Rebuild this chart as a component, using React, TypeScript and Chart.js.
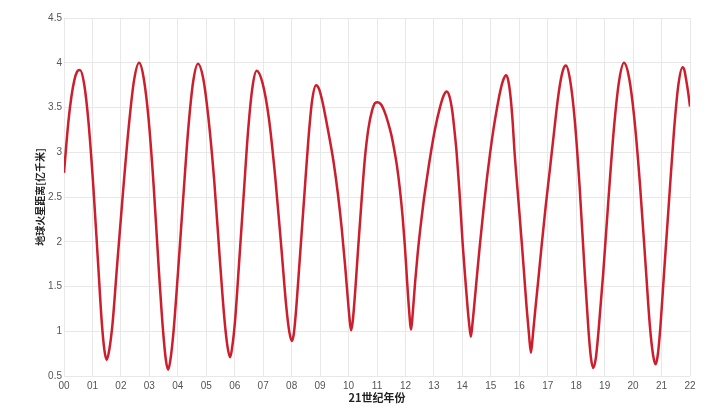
import { useEffect, useRef } from 'react';
import { Chart, registerables } from 'chart.js';

Chart.register(...registerables);

// Year within the 21st century (0 = 2000)
const years = [
  0.00, 0.08, 0.16, 0.26, 0.36, 0.46, 0.56,
  0.71, 0.86, 1.03, 1.20, 1.33, 1.42, 1.50,
  1.59, 1.71, 1.86, 2.07, 2.28, 2.46, 2.64,
  2.80, 2.97, 3.15, 3.33, 3.48, 3.58, 3.66,
  3.74, 3.85, 4.00, 4.19, 4.37, 4.54, 4.71,
  4.89, 5.07, 5.28, 5.48, 5.64, 5.75, 5.84,
  5.91, 6.01, 6.14, 6.31, 6.47, 6.62, 6.77,
  6.98, 7.20, 7.43, 7.65, 7.81, 7.92, 8.01,
  8.08, 8.16, 8.28, 8.44, 8.59, 8.72, 8.86,
  8.96, 9.08, 9.20, 9.33, 9.47, 9.62, 9.76, 9.88, 9.97, 10.03, 10.09,
  10.15, 10.23, 10.34, 10.46, 10.58, 10.70, 10.83, 10.93, 11.02,
  11.15, 11.28, 11.40, 11.50, 11.60, 11.70, 11.80, 11.90, 11.98, 12.05, 12.12, 12.20,
  12.26, 12.34, 12.43, 12.53, 12.63, 12.75, 12.88, 13.04, 13.22, 13.35, 13.45,
  13.55, 13.65, 13.73, 13.80, 13.90, 14.01, 14.10, 14.19, 14.25, 14.30,
  14.36, 14.45, 14.53, 14.62, 14.75, 14.86, 14.97, 15.09, 15.21, 15.33, 15.44, 15.54,
  15.62, 15.70, 15.77, 15.83, 15.96, 16.09, 16.18, 16.26, 16.34, 16.41,
  16.47, 16.55, 16.67, 16.79, 16.93, 17.08, 17.22, 17.35, 17.47, 17.56, 17.64,
  17.79, 17.95, 18.12, 18.29, 18.43, 18.52, 18.60,
  18.69, 18.79, 18.95, 19.14, 19.33, 19.51, 19.68,
  19.86, 20.04, 20.24, 20.44, 20.59, 20.70, 20.79,
  20.87, 20.96, 21.09, 21.27, 21.44, 21.59, 21.74,
  21.80, 21.86, 21.93, 22.00,
];

// Earth–Mars distance, 100 million km
const distances = [
  2.77, 3.08, 3.36, 3.62, 3.80, 3.90, 3.92,
  3.76, 3.34, 2.62, 1.75, 1.09, 0.79, 0.68,
  0.79, 1.10, 1.71, 2.54, 3.30, 3.80, 4.00,
  3.83, 3.38, 2.63, 1.70, 1.01, 0.68, 0.57,
  0.68, 1.00, 1.63, 2.49, 3.27, 3.79, 3.99,
  3.83, 3.40, 2.68, 1.79, 1.13, 0.82, 0.71,
  0.82, 1.11, 1.70, 2.50, 3.24, 3.72, 3.91,
  3.77, 3.38, 2.70, 1.89, 1.28, 0.99, 0.89,
  0.98, 1.25, 1.78, 2.49, 3.15, 3.58, 3.75,
  3.71, 3.57, 3.38, 3.16, 2.90, 2.55, 2.15, 1.73, 1.38, 1.16, 1.01,
  1.12, 1.43, 1.94, 2.47, 2.95, 3.27, 3.47, 3.55, 3.56,
  3.53, 3.44, 3.32, 3.20, 3.04, 2.85, 2.60, 2.28, 1.95, 1.60, 1.27, 1.02,
  1.22, 1.55, 1.87, 2.17, 2.43, 2.70, 2.97, 3.26, 3.51, 3.64, 3.68,
  3.62, 3.45, 3.22, 2.99, 2.55, 1.98, 1.60, 1.24, 1.05, 0.94,
  1.10, 1.40, 1.68, 1.98, 2.38, 2.70, 2.98, 3.25, 3.48, 3.68, 3.81, 3.86,
  3.79, 3.60, 3.33, 3.02, 2.50, 1.98, 1.60, 1.26, 0.97, 0.76,
  0.93, 1.20, 1.58, 1.97, 2.40, 2.82, 3.22, 3.58, 3.83, 3.94, 3.97,
  3.80, 3.36, 2.62, 1.71, 1.02, 0.70, 0.59,
  0.70, 1.02, 1.65, 2.50, 3.28, 3.80, 4.00,
  3.83, 3.39, 2.65, 1.74, 1.06, 0.74, 0.63,
  0.74, 1.05, 1.66, 2.49, 3.25, 3.75, 3.95,
  3.92, 3.82, 3.68, 3.51,
];

const xTickLabels = [
  '00', '01', '02', '03', '04', '05', '06', '07', '08', '09', '10', '11',
  '12', '13', '14', '15', '16', '17', '18', '19', '20', '21', '22',
];
const yTickLabels = ['0.5', '1', '1.5', '2', '2.5', '3', '3.5', '4', '4.5'];

const xTitle = '21世纪年份';
const yTitle = '地球火星距离[亿千米]';

const FONT = '"Liberation Sans", "Noto Sans CJK SC", Arial, sans-serif';
const TITLE_FONT = '"Noto Sans CJK SC", "Liberation Sans", sans-serif';

export default function App() {
  const ref = useRef<HTMLCanvasElement>(null);

  useEffect(() => {
    if (!ref.current) return;
    const chart = new Chart(ref.current, {
      type: 'line',
      data: {
        datasets: [
          {
            data: years.map((x, i) => ({ x, y: distances[i] })),
            borderColor: '#cc1e2c',
            borderWidth: 2.5,
            pointRadius: 0,
            fill: false,
            cubicInterpolationMode: 'monotone',
          },
        ],
      },
      options: {
        responsive: false,
        animation: false,
        layout: { padding: { left: 0, right: 30, top: 18, bottom: 0 } },
        plugins: {
          legend: { display: false },
          tooltip: { enabled: false },
        },
        scales: {
          x: {
            type: 'linear',
            min: 0,
            max: 22,
            afterFit: (s: any) => {
              s.height = 44;
            },
            border: { display: false },
            grid: { color: '#e8e8e8', lineWidth: 1, drawTicks: false },
            ticks: {
              stepSize: 1,
              autoSkip: false,
              maxRotation: 0,
              padding: 4,
              color: '#555',
              font: { family: FONT, size: 10 },
              callback: (v: any) => xTickLabels[Math.round(Number(v))] ?? '',
            },
            title: {
              display: true,
              text: xTitle,
              color: '#222',
              font: { family: TITLE_FONT, size: 11, weight: 'bold' },
              padding: { top: 0, bottom: 16 },
            },
          },
          y: {
            min: 0.5,
            max: 4.5,
            afterFit: (s: any) => {
              s.width = 64;
            },
            border: { display: false },
            grid: { color: '#e8e8e8', lineWidth: 1, drawTicks: false },
            ticks: {
              stepSize: 0.5,
              padding: 2,
              color: '#555',
              font: { family: FONT, size: 10 },
              callback: (_v: any, i: number) => yTickLabels[i] ?? '',
            },
            title: {
              display: true,
              text: yTitle,
              color: '#222',
              font: { family: TITLE_FONT, size: 10, weight: 'bold' },
              padding: { top: 34, bottom: 0 },
            },
          },
        },
      },
    });
    return () => chart.destroy();
  }, []);

  return (
    <div
      style={{
        position: 'absolute',
        left: 0,
        top: 0,
        width: 720,
        height: 420,
        background: '#ffffff',
      }}
    >
      <canvas ref={ref} width={720} height={420} />
    </div>
  );
}
